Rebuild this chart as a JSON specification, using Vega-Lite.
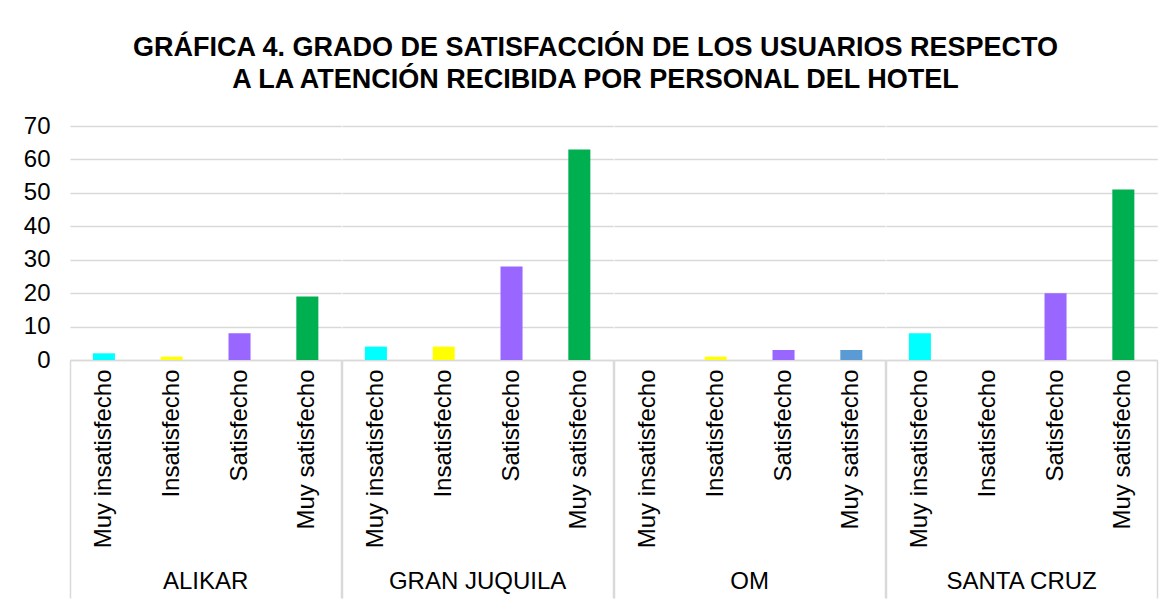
{
  "$schema": "https://vega.github.io/schema/vega-lite/v6.json",
  "padding": {"left": 23, "top": 34, "right": 10, "bottom": 0},
  "background": "white",
  "title": {
    "text": ["GRÁFICA 4. GRADO DE SATISFACCIÓN DE  LOS USUARIOS RESPECTO", "A LA ATENCIÓN RECIBIDA POR PERSONAL DEL HOTEL"],
    "font": "Liberation Sans",
    "fontSize": 27,
    "fontWeight": "bold",
    "color": "#000000",
    "lineHeight": 32,
    "anchor": "middle",
    "dx": 5,
    "offset": 20
  },
  "data": {
    "values": [
      {"hotel": "ALIKAR", "categoria": "Muy insatisfecho", "valor": 2},
      {"hotel": "ALIKAR", "categoria": "Insatisfecho", "valor": 1},
      {"hotel": "ALIKAR", "categoria": "Satisfecho", "valor": 8},
      {"hotel": "ALIKAR", "categoria": "Muy satisfecho", "valor": 19},
      {"hotel": "GRAN JUQUILA", "categoria": "Muy insatisfecho", "valor": 4},
      {"hotel": "GRAN JUQUILA", "categoria": "Insatisfecho", "valor": 4},
      {"hotel": "GRAN JUQUILA", "categoria": "Satisfecho", "valor": 28},
      {"hotel": "GRAN JUQUILA", "categoria": "Muy satisfecho", "valor": 63},
      {"hotel": "OM", "categoria": "Muy insatisfecho", "valor": 0},
      {"hotel": "OM", "categoria": "Insatisfecho", "valor": 1},
      {"hotel": "OM", "categoria": "Satisfecho", "valor": 3},
      {"hotel": "OM", "categoria": "Muy satisfecho", "valor": 3},
      {"hotel": "SANTA CRUZ", "categoria": "Muy insatisfecho", "valor": 8},
      {"hotel": "SANTA CRUZ", "categoria": "Insatisfecho", "valor": 0},
      {"hotel": "SANTA CRUZ", "categoria": "Satisfecho", "valor": 20},
      {"hotel": "SANTA CRUZ", "categoria": "Muy satisfecho", "valor": 51}
    ]
  },
  "facet": {
    "column": {
      "field": "hotel",
      "type": "nominal",
      "sort": ["ALIKAR", "GRAN JUQUILA", "OM", "SANTA CRUZ"],
      "title": null,
      "header": {
        "labelOrient": "bottom",
        "labelFont": "Liberation Sans",
        "labelFontSize": 24,
        "labelColor": "#000000",
        "labelPadding": -29,
        "labelBaseline": "top"
      }
    }
  },
  "spacing": 0,
  "spec": {
    "width": 271.25,
    "height": 234,
    "mark": {"type": "bar", "width": {"band": 0.325}},
    "encoding": {
      "x": {
        "field": "categoria",
        "type": "nominal",
        "sort": ["Muy insatisfecho", "Insatisfecho", "Satisfecho", "Muy satisfecho"],
        "scale": {"paddingInner": 0, "paddingOuter": 0},
        "axis": {
          "title": null,
          "labelAngle": -90,
          "labelFont": "Liberation Sans",
          "labelFontSize": 24,
          "labelColor": "#000000",
          "labelPadding": -229,
          "domainColor": "#d9d9d9",
          "domainWidth": 1.5,
          "bandPosition": 1,
          "tickExtra": true,
          "tickSize": 238,
          "tickWidth": 1.5,
          "tickColor": {
            "condition": {"test": "datum.extra || datum.value === 'Muy satisfecho'", "value": "#d9d9d9"},
            "value": "transparent"
          }
        }
      },
      "y": {
        "field": "valor",
        "type": "quantitative",
        "scale": {"domain": [0, 70]},
        "axis": {
          "title": null,
          "values": [0, 10, 20, 30, 40, 50, 60, 70],
          "labelFont": "Liberation Sans",
          "labelFontSize": 24,
          "labelColor": "#000000",
          "labelPadding": 20,
          "ticks": false,
          "domain": false,
          "gridColor": "#d9d9d9",
          "gridWidth": 1.5
        }
      },
      "color": {
        "condition": {"test": "datum.hotel === 'OM' && datum.categoria === 'Muy satisfecho'", "value": "#5B9BD5"},
        "field": "categoria",
        "type": "nominal",
        "scale": {
          "domain": ["Muy insatisfecho", "Insatisfecho", "Satisfecho", "Muy satisfecho"],
          "range": ["#00FFFF", "#FFFF00", "#9966FF", "#00B050"]
        },
        "legend": null
      }
    }
  },
  "config": {
    "view": {"stroke": null},
    "axis": {"grid": true},
    "axisX": {"grid": false}
  }
}
